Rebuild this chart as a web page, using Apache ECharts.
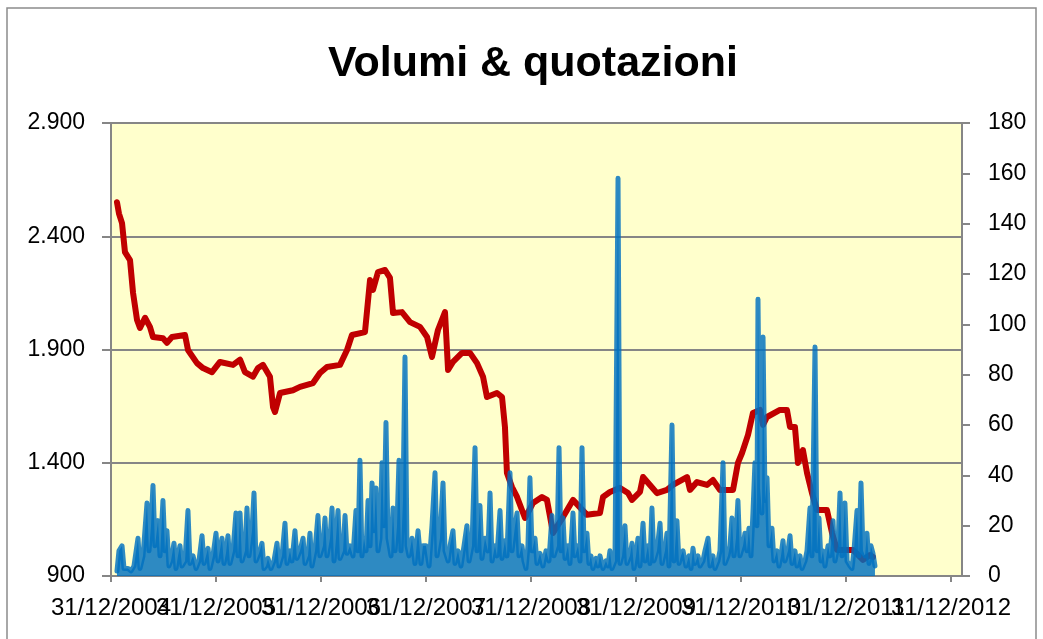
<!DOCTYPE html>
<html>
<head>
<meta charset="utf-8">
<title>Volumi & quotazioni</title>
<script src="https://cdn.jsdelivr.net/npm/echarts@6/dist/echarts.min.js"></script>
<style>
  html, body { margin: 0; padding: 0; background: #fff; }
  #chart { width: 1043px; height: 639px; }
</style>
</head>
<body>
<div id="chart"></div>
<script>
// date in anni decimali: 2005.0 = 31/12/2004
var yearTicks = [2005, 2006, 2007, 2008, 2009, 2010, 2011, 2012, 2013];
var yearLabels = ['31/12/2004', '31/12/2005', '31/12/2006', '31/12/2007', '31/12/2008',
                  '31/12/2009', '31/12/2010', '31/12/2011', '31/12/2012'];

// quotazioni (asse sinistro)
var priceDates = [
  2005.057, 2005.076, 2005.105, 2005.133, 2005.181, 2005.210, 2005.248, 2005.276, 2005.324, 2005.371,
  2005.400, 2005.495, 2005.533, 2005.581, 2005.705, 2005.733, 2005.819, 2005.876, 2005.962, 2006.038,
  2006.162, 2006.229, 2006.276, 2006.352, 2006.400, 2006.448, 2006.514, 2006.543, 2006.562, 2006.610,
  2006.733, 2006.800, 2006.924, 2006.990, 2007.057, 2007.181, 2007.248, 2007.295, 2007.419, 2007.467,
  2007.495, 2007.543, 2007.610, 2007.657, 2007.686, 2007.771, 2007.848, 2007.943, 2008.010, 2008.057,
  2008.114, 2008.181, 2008.210, 2008.257, 2008.343, 2008.419, 2008.486, 2008.543, 2008.581, 2008.676,
  2008.724, 2008.752, 2008.771, 2008.819, 2008.867, 2008.943, 2009.019, 2009.105, 2009.152, 2009.210,
  2009.305, 2009.400, 2009.533, 2009.657, 2009.686, 2009.752, 2009.848, 2009.924, 2009.962, 2010.038,
  2010.067, 2010.133, 2010.200, 2010.295, 2010.352, 2010.486, 2010.514, 2010.581, 2010.676, 2010.733,
  2010.800, 2010.924, 2010.971, 2011.010, 2011.067, 2011.114, 2011.181, 2011.210, 2011.248, 2011.371,
  2011.438, 2011.467, 2011.514, 2011.543, 2011.590, 2011.629, 2011.676, 2011.724, 2011.819, 2011.867,
  2011.914, 2012.067, 2012.162, 2012.229, 2012.257
];
var priceValues = [
  2550, 2500, 2458, 2330, 2295, 2150, 2030, 1995, 2040, 2000,
  1955, 1950, 1930, 1955, 1964, 1898, 1840, 1818, 1800, 1845,
  1832, 1855, 1800, 1780, 1818, 1832, 1780, 1646, 1624, 1708,
  1720, 1735, 1752, 1796, 1823, 1832, 1898, 1964, 1977, 2207,
  2163, 2242, 2251, 2216, 2061, 2065, 2021, 2000, 1955, 1867,
  1986, 2065, 1810, 1845, 1885, 1885, 1840, 1780, 1690, 1708,
  1690, 1558, 1355, 1293, 1249, 1156, 1222, 1249, 1236, 1090,
  1160, 1236, 1170, 1178, 1249, 1271, 1289, 1266, 1236, 1271,
  1337, 1302, 1266, 1280, 1302, 1337, 1280, 1315, 1302, 1324,
  1280, 1280, 1399, 1443, 1523, 1620, 1633, 1567, 1602, 1633,
  1633, 1558, 1558, 1399, 1456, 1355, 1266, 1191, 1191, 1090,
  1015, 1015, 971, 993, 984
];

// volumi (asse destro)
var volDates = [
  2005.057, 2005.076, 2005.105, 2005.124, 2005.162, 2005.190, 2005.219, 2005.257, 2005.276, 2005.305,
  2005.343, 2005.362, 2005.381, 2005.400, 2005.419, 2005.448, 2005.467, 2005.495, 2005.514, 2005.533,
  2005.552, 2005.571, 2005.600, 2005.619, 2005.638, 2005.657, 2005.676, 2005.705, 2005.733, 2005.752,
  2005.781, 2005.810, 2005.838, 2005.867, 2005.886, 2005.924, 2005.943, 2005.971, 2006.000, 2006.019,
  2006.057, 2006.076, 2006.095, 2006.114, 2006.133, 2006.162, 2006.190, 2006.210, 2006.229, 2006.248,
  2006.276, 2006.295, 2006.314, 2006.343, 2006.362, 2006.381, 2006.410, 2006.438, 2006.457, 2006.476,
  2006.495, 2006.524, 2006.552, 2006.581, 2006.600, 2006.629, 2006.657, 2006.676, 2006.705, 2006.724,
  2006.752, 2006.771, 2006.800, 2006.829, 2006.848, 2006.876, 2006.895, 2006.914, 2006.943, 2006.971,
  2006.990, 2007.019, 2007.038, 2007.057, 2007.086, 2007.105, 2007.124, 2007.143, 2007.162, 2007.181,
  2007.210, 2007.229, 2007.248, 2007.276, 2007.305, 2007.333, 2007.352, 2007.371, 2007.390, 2007.410,
  2007.429, 2007.448, 2007.467, 2007.486, 2007.505, 2007.524, 2007.543, 2007.562, 2007.581, 2007.600,
  2007.619, 2007.638, 2007.667, 2007.686, 2007.705, 2007.724, 2007.743, 2007.762, 2007.781, 2007.800,
  2007.819, 2007.838, 2007.867, 2007.895, 2007.924, 2007.952, 2007.971, 2008.000, 2008.029, 2008.057,
  2008.086, 2008.105, 2008.133, 2008.162, 2008.181, 2008.210, 2008.229, 2008.257, 2008.276, 2008.305,
  2008.333, 2008.362, 2008.390, 2008.410, 2008.438, 2008.467, 2008.486, 2008.514, 2008.533, 2008.562,
  2008.590, 2008.610, 2008.629, 2008.657, 2008.676, 2008.705, 2008.724, 2008.752, 2008.771, 2008.800,
  2008.819, 2008.848, 2008.867, 2008.886, 2008.914, 2008.933, 2008.952, 2008.971, 2008.990, 2009.010,
  2009.038, 2009.057, 2009.086, 2009.114, 2009.143, 2009.171, 2009.200, 2009.219, 2009.248, 2009.267,
  2009.286, 2009.305, 2009.324, 2009.352, 2009.371, 2009.400, 2009.419, 2009.448, 2009.467, 2009.486,
  2009.505, 2009.533, 2009.552, 2009.571, 2009.590, 2009.619, 2009.638, 2009.657, 2009.686, 2009.714,
  2009.733, 2009.752, 2009.771, 2009.800, 2009.829, 2009.848, 2009.867, 2009.895, 2009.914, 2009.943,
  2009.962, 2009.981, 2010.000, 2010.019, 2010.038, 2010.067, 2010.086, 2010.114, 2010.133, 2010.152,
  2010.171, 2010.200, 2010.229, 2010.248, 2010.276, 2010.295, 2010.314, 2010.343, 2010.362, 2010.390,
  2010.410, 2010.429, 2010.448, 2010.476, 2010.505, 2010.524, 2010.543, 2010.562, 2010.590, 2010.610,
  2010.638, 2010.657, 2010.686, 2010.705, 2010.733, 2010.752, 2010.781, 2010.800, 2010.829, 2010.848,
  2010.876, 2010.895, 2010.914, 2010.933, 2010.952, 2010.971, 2010.990, 2011.019, 2011.038, 2011.057,
  2011.076, 2011.095, 2011.114, 2011.133, 2011.152, 2011.162, 2011.181, 2011.200, 2011.210, 2011.229,
  2011.248, 2011.267, 2011.295, 2011.314, 2011.343, 2011.362, 2011.381, 2011.400, 2011.419, 2011.448,
  2011.467, 2011.486, 2011.514, 2011.533, 2011.562, 2011.581, 2011.610, 2011.629, 2011.657, 2011.676,
  2011.705, 2011.724, 2011.743, 2011.762, 2011.781, 2011.800, 2011.829, 2011.848, 2011.876, 2011.895,
  2011.924, 2011.943, 2011.962, 2011.990, 2012.010, 2012.038, 2012.057, 2012.076, 2012.105, 2012.124,
  2012.143, 2012.162, 2012.181, 2012.200, 2012.219, 2012.238, 2012.257, 2012.276
];
var volValues = [
  2, 10, 12, 3, 3, 2, 4, 15, 3, 8,
  29, 10, 20, 36, 12, 22, 8, 30, 10, 18,
  4, 6, 13, 3, 8, 12, 4, 6, 26, 5,
  8, 3, 6, 16, 5, 11, 3, 8, 17, 6,
  15, 5, 9, 16, 5, 10, 25, 8, 25, 6,
  10, 27, 8, 18, 33, 6, 9, 13, 3, 4,
  7, 3, 6, 13, 4, 8, 21, 5, 10, 6,
  18, 7, 10, 15, 5, 8, 17, 4, 10, 24,
  8, 12, 23, 8, 15, 27, 6, 15, 26, 7,
  10, 24, 9, 12, 8, 26, 10, 46, 8, 15,
  10, 30, 12, 37, 18, 35, 10, 15, 45, 20,
  61, 15, 8, 27, 10, 20, 46, 10, 30, 87,
  12, 8, 15, 5, 18, 5, 12, 12, 4, 20,
  41, 8, 15, 37, 10, 6, 12, 18, 5, 10,
  4, 12, 20, 6, 12, 51, 10, 28, 7, 15,
  10, 33, 6, 12, 8, 26, 7, 14, 8, 41,
  10, 20, 25, 8, 12, 6, 3, 12, 39, 10,
  15, 5, 9, 4, 10, 6, 24, 8, 12, 51,
  10, 23, 7, 12, 5, 25, 8, 12, 6, 51,
  10, 17, 5, 8, 3, 7, 4, 8, 3, 6,
  4, 10, 3, 6, 158, 5, 8, 20, 5, 8,
  13, 3, 8, 15, 4, 21, 6, 12, 5, 27,
  6, 10, 21, 5, 10, 17, 4, 60, 6, 22,
  5, 8, 10, 4, 8, 3, 11, 5, 8, 4,
  6, 10, 15, 4, 8, 3, 6, 10, 45, 5,
  8, 12, 23, 8, 15, 30, 8, 12, 17, 10,
  19, 8, 25, 45, 20, 110, 35, 25, 95, 30,
  39, 12, 19, 6, 10, 4, 8, 14, 6, 10,
  16, 5, 10, 4, 8, 3, 6, 10, 27, 8,
  91, 10, 23, 6, 10, 4, 12, 8, 22, 6,
  12, 33, 8, 29, 6, 4, 3, 10, 26, 8,
  37, 10, 8, 17, 5, 12, 9, 4
];

function zip(xs, ys) {
  var out = [];
  for (var i = 0; i < xs.length; i++) out.push([xs[i], ys[i]]);
  return out;
}

function migliaia(v) {
  if (v < 1000) return String(v);
  var r = String(v % 1000);
  while (r.length < 3) r = '0' + r;
  return Math.floor(v / 1000) + '.' + r;
}

function yearLabel(v) {
  var i = Math.round(v - 2005);
  return yearLabels[i] || '';
}

var font = 'Liberation Sans, Arial, sans-serif';
var gray = '#868686';
var blue = 'rgba(0,112,192,0.82)';

// le etichette si sovrappongono: anni pari e dispari su due assi gemelli
var oddTicks = yearTicks.filter(function (v, i) { return i % 2 === 0; });
var evenTicks = yearTicks.filter(function (v, i) { return i % 2 === 1; });

function labelAxis(values, withLine) {
  return {
    type: 'value',
    min: 2005,
    max: 2013.105,
    position: 'bottom',
    axisLine: { show: withLine, lineStyle: { color: gray, width: 2 } },
    axisTick: { show: withLine, length: 6, customValues: yearTicks, lineStyle: { color: gray, width: 2 } },
    splitLine: { show: false },
    axisLabel: {
      margin: 20,
      customValues: values,
      fontFamily: font,
      fontSize: 24,
      color: '#000',
      formatter: yearLabel
    }
  };
}

var chart = echarts.init(document.getElementById('chart'));

var option = {
  animation: false,
  backgroundColor: '#ffffff',
  title: {
    text: 'Volumi & quotazioni',
    left: 528,
    top: 38,
    textAlign: 'center',
    textStyle: { fontFamily: font, fontSize: 43, fontWeight: 'bold', color: '#000' }
  },
  graphic: [{
    type: 'rect',
    shape: { x: 7, y: 8, width: 1029, height: 700 },
    style: { fill: 'none', stroke: '#8c8c8c', lineWidth: 1.5 },
    silent: true
  }],
  grid: {
    left: 111, right: 81, top: 123, bottom: 63,
    show: true,
    backgroundColor: '#FFFFCC',
    borderColor: '#222',
    borderWidth: 1.5
  },
  xAxis: [labelAxis(oddTicks, true), labelAxis(evenTicks, false)],
  yAxis: [{
    type: 'value',
    min: 900,
    max: 2900,
    interval: 500,
    position: 'left',
    axisLine: { show: true, lineStyle: { color: gray, width: 2 } },
    axisTick: { show: true, length: 9, lineStyle: { color: gray, width: 2 } },
    splitLine: { show: true, lineStyle: { color: gray, width: 2 } },
    axisLabel: { margin: 26, fontFamily: font, fontSize: 23, color: '#000', formatter: migliaia }
  }, {
    type: 'value',
    min: 0,
    max: 180,
    interval: 20,
    position: 'right',
    axisLine: { show: true, lineStyle: { color: gray, width: 2 } },
    axisTick: { show: true, length: 8, lineStyle: { color: gray, width: 2 } },
    splitLine: { show: false },
    axisLabel: { margin: 26, fontFamily: font, fontSize: 23, color: '#000' }
  }],
  series: [{
    name: 'Quotazioni',
    type: 'line',
    xAxisIndex: 0,
    yAxisIndex: 0,
    data: zip(priceDates, priceValues),
    showSymbol: false,
    silent: true,
    lineStyle: { color: '#C00000', width: 6, join: 'round', cap: 'round' },
    z: 2
  }, {
    name: 'Volumi',
    type: 'line',
    xAxisIndex: 0,
    yAxisIndex: 1,
    data: zip(volDates, volValues),
    showSymbol: false,
    silent: true,
    lineStyle: { color: blue, width: 5, join: 'round', cap: 'round' },
    areaStyle: { color: blue, opacity: 1, origin: 'start' },
    z: 3
  }]
};

chart.setOption(option);
</script>
</body>
</html>
